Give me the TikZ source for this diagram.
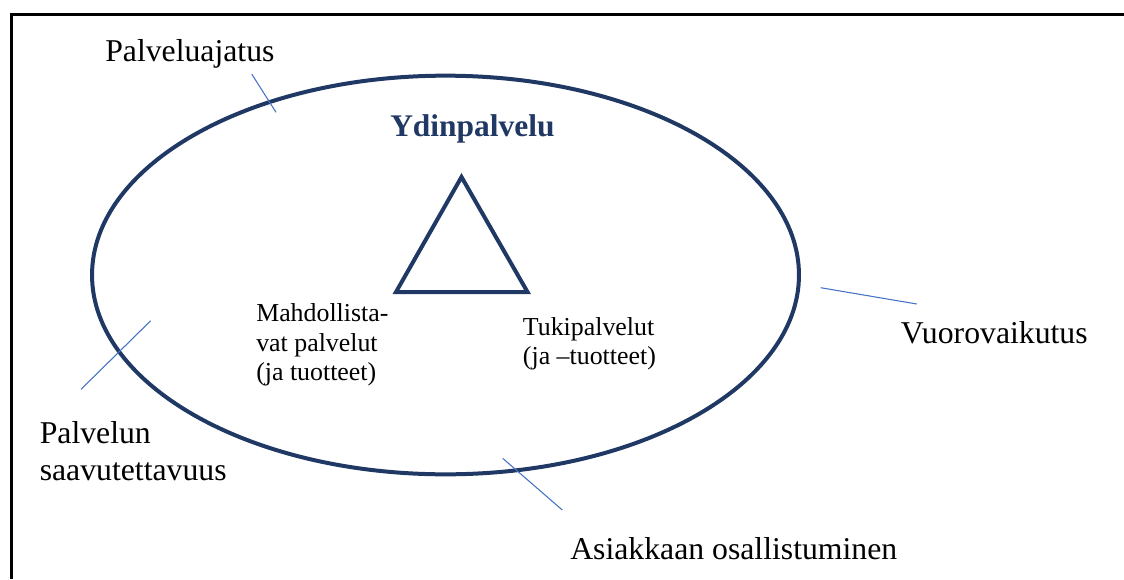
\documentclass[tikz,border=0pt]{standalone}
\usepackage{fontspec}
\setmainfont{Liberation Serif}
\definecolor{navy}{RGB}{32,56,100}
\definecolor{tickblue}{RGB}{68,114,196}
\begin{document}
\begin{tikzpicture}[x=0.75pt,y=-0.75pt,
  lab/.style={anchor=base west,inner sep=0pt,font=\fontsize{23.8}{28}\selectfont},
  small/.style={anchor=base west,inner sep=0pt,font=\fontsize{19.4}{23}\selectfont},
  tickline/.style={draw=tickblue,line width=0.8pt},
  shapeline/.style={draw=navy,line width=3pt}]
\useasboundingbox (0,0) rectangle (1124,579);
% frame (only top and left edges visible)
\coordinate (fbl) at (11.5,579);
\coordinate (ftl) at (11.5,14.5);
\coordinate (ftr) at (1124,14.5);
\draw[line width=1.6pt] (fbl) -- (ftl) -- (ftr);
% ellipse
\coordinate (ec) at (445.5,275);
\draw[shapeline] (ec) ellipse [x radius=265.1pt, y radius=149.5pt];
% triangle
\coordinate (ta) at (461.5,177);
\coordinate (tr) at (527.5,292);
\coordinate (tl) at (396,292);
\draw[shapeline,line join=miter] (ta) -- (tr) -- (tl) -- cycle;
% tick lines
\coordinate (p1a) at (251.7,74);   \coordinate (p1b) at (276,112.3);
\coordinate (p2a) at (820.7,287.7); \coordinate (p2b) at (916.7,304);
\coordinate (p3a) at (150.7,320.7); \coordinate (p3b) at (81,389.3);
\coordinate (p4a) at (502.7,458.3); \coordinate (p4b) at (562.3,510);
\draw[tickline] (p1a) -- (p1b);
\draw[tickline] (p2a) -- (p2b);
\draw[tickline] (p3a) -- (p3b);
\draw[tickline] (p4a) -- (p4b);
% labels
\node[lab] (pa) at (105,61.7) {Palveluajatus};
\node[lab] (vu) at (900.7,343.3) {Vuorovaikutus};
\node[lab] (sa1) at (39.5,443.3) {Palvelun};
\node[lab] (sa2) at (39.5,480) {saavutettavuus};
\node[lab] (as) at (570,559.3) {Asiakkaan osallistuminen};
\node[anchor=base west,inner sep=0pt,text=navy,font=\fontsize{23.6}{28}\selectfont\bfseries] (yd) at (390,136) {Ydinpalvelu};
\node[small] (m1) at (256,321.7) {Mahdollista-};
\node[small] (m2) at (256,351.7) {vat palvelut};
\node[small] (m3) at (256,380.5) {(ja tuotteet)};
\node[small] (t1) at (522.7,335) {Tukipalvelut};
\node[small] (t2) at (522.7,364) {(ja –tuotteet)};
\end{tikzpicture}
\end{document}
